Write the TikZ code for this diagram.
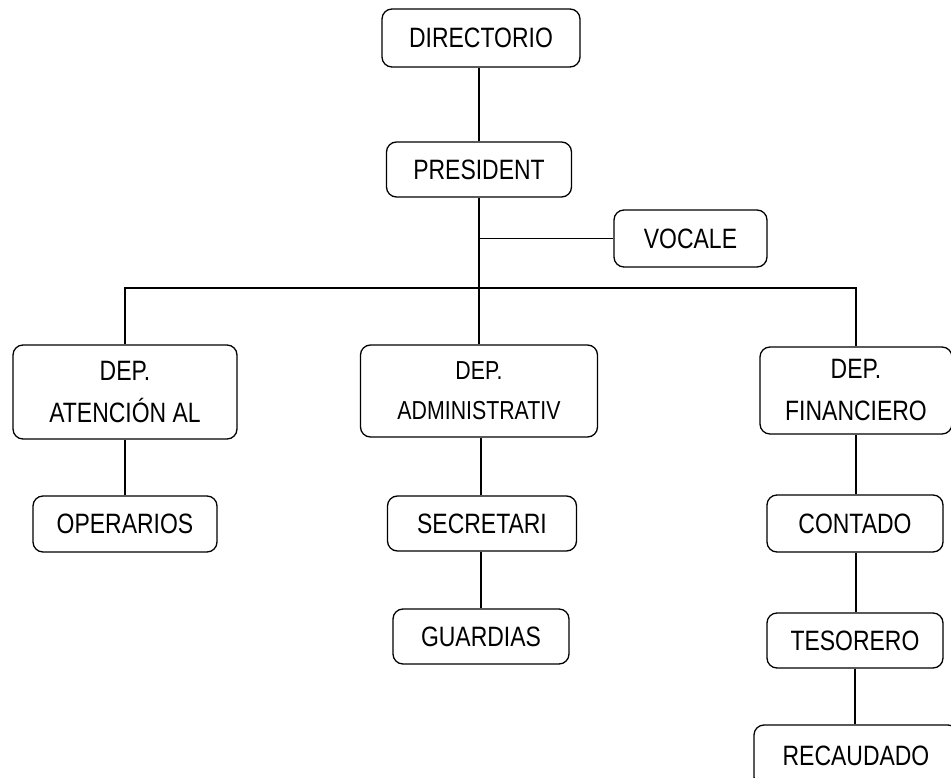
\documentclass[tikz,border=0pt]{standalone}
\usepackage{fontspec}
\setmainfont[FakeStretch=0.82]{Liberation Sans}
\usepackage{tikz}
\usetikzlibrary{positioning}

\begin{document}
\begin{tikzpicture}[x=1pt,y=-1pt,line width=1.3pt,
        unit/.style={rectangle, rounded corners=10pt, draw, line width=1.3pt,
                     align=center, inner sep=0pt,
                     font=\fontsize{28}{42}\selectfont}]
        \path[use as bounding box, clip] (0,0) rectangle (951,778);
        % top of the chart
        \node[unit, minimum width=198, minimum height=58] (dir) at (481,38) {DIRECTORIO};
        \node[unit, minimum width=185, minimum height=55] (pres) at (479,169.5) {PRESIDENT};
        \node[unit, minimum width=153, minimum height=57] (voc) at (690.5,238.5) {VOCALE};
        % departments
        \node[unit, minimum width=224, minimum height=94] (aten) at (125,392) {DEP.\\ATENCIÓN AL};
        \node[unit, minimum width=237, minimum height=92, font=\fontsize{26}{40}\selectfont] (adm) at (479,391) {DEP.\\ADMINISTRATIV};
        \node[unit, minimum width=192, minimum height=87] (fin) at (856,390.5) {DEP.\\FINANCIERO};
        % staff
        \node[unit, minimum width=184, minimum height=56] (oper) at (125,524) {OPERARIOS};
        \node[unit, minimum width=189, minimum height=55] (secr) at (482,523.5) {SECRETARI};
        \node[unit, minimum width=176, minimum height=55] (guar) at (481,636.5) {GUARDIAS};
        \node[unit, minimum width=176, minimum height=57] (cont) at (855,523.5) {CONTADO};
        \node[unit, minimum width=176, minimum height=55] (teso) at (855,640.5) {TESORERO};
        \node[unit, minimum width=204, minimum height=62] (reca) at (856,756) {RECAUDADO};
        \coordinate (bus) at (479,288);

        \draw (pres.north) -- (pres.north |- dir.south);
        \draw (pres.south) -- (adm.north);
        \draw (voc.west) -- (voc.west -| pres.south);
        \draw (aten.north) |- (bus) -| (fin.north);
        \draw (aten.south) -- (oper.north);
        \draw (guar.north |- secr.north) -- (guar.north |- adm.south);
        \draw (guar.north) -- (guar.north |- secr.south);
        \draw (fin.south) -- (fin.south |- cont.north);
        \draw (fin.south |- cont.south) -- (fin.south |- teso.north);
        \draw (teso.south) -- (teso.south |- reca.north);
      \end{tikzpicture}
\end{document}
